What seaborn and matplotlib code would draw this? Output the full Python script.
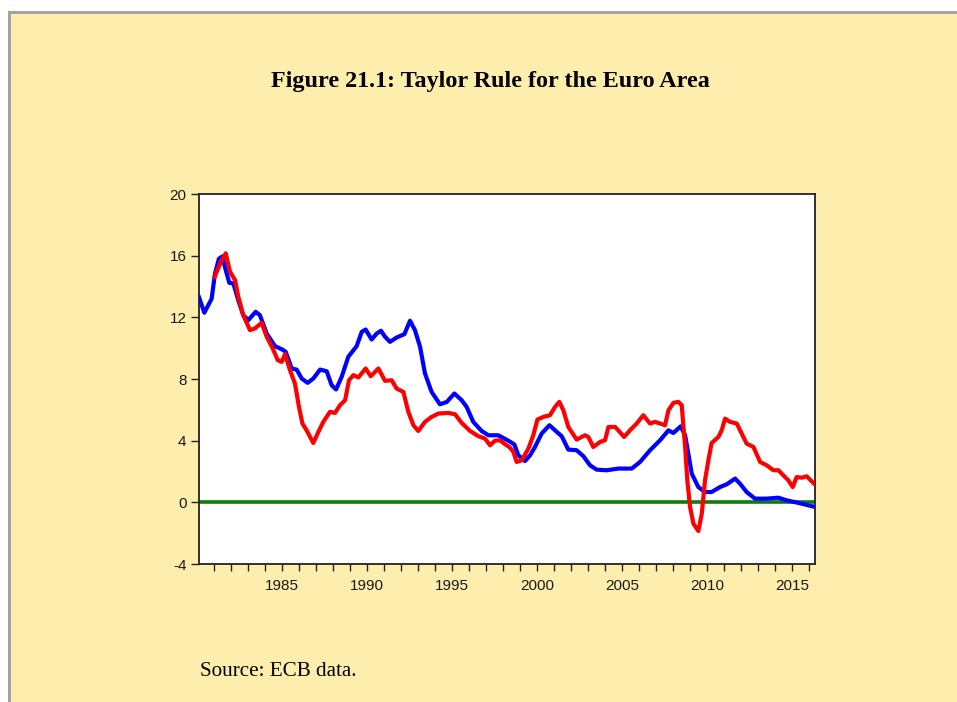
import matplotlib
matplotlib.use("Agg")
import matplotlib.pyplot as plt
from matplotlib.patches import Rectangle
from matplotlib.ticker import MultipleLocator, FixedLocator
import seaborn as sns
import pandas as pd

# Short-term interest rate (blue)
rate_year = [1980.12, 1980.43, 1980.86, 1981.06, 1981.29, 1981.49, 1981.69, 1981.90,
             1982.14, 1982.43, 1982.72, 1983.02, 1983.45, 1983.70, 1984.10, 1984.59,
             1985.02, 1985.22, 1985.57, 1985.86, 1986.16, 1986.51, 1986.84, 1987.24,
             1987.63, 1987.92, 1988.18, 1988.51, 1988.90, 1989.39, 1989.69, 1989.92,
             1990.27, 1990.57, 1990.82, 1991.06, 1991.35, 1991.74, 1992.20, 1992.53,
             1992.82, 1993.12, 1993.41, 1993.80, 1994.29, 1994.69, 1995.14, 1995.57,
             1995.86, 1996.25, 1996.74, 1997.14, 1997.72, 1998.31, 1998.67, 1998.90,
             1999.29, 1999.59, 1999.88, 2000.27, 2000.73, 2001.06, 2001.45, 2001.84,
             2002.33, 2002.73, 2003.12, 2003.51, 2004.10, 2004.78, 2005.57, 2006.06,
             2006.65, 2007.24, 2007.73, 2008.02, 2008.45, 2008.71, 2008.90, 2009.10,
             2009.49, 2009.88, 2010.27, 2010.76, 2011.16, 2011.65, 2011.94, 2012.33,
             2012.82, 2013.51, 2014.20, 2014.69, 2015.47, 2016.35]
rate_value = [13.3, 12.3, 13.2, 14.85, 15.8, 15.95, 15.07, 14.24,
              14.2, 13.1, 12.14, 11.82, 12.36, 12.14, 10.95, 10.13,
              9.91, 9.76, 8.68, 8.61, 8.03, 7.75, 8.03, 8.61,
              8.5, 7.6, 7.32, 8.14, 9.44, 10.13, 11.06, 11.21,
              10.56, 10.95, 11.13, 10.74, 10.41, 10.69, 10.91, 11.78,
              11.17, 10.09, 8.36, 7.16, 6.36, 6.51, 7.06, 6.62,
              6.19, 5.22, 4.63, 4.35, 4.35, 4.0, 3.75, 3.05,
              2.68, 3.05, 3.59, 4.46, 5.0, 4.67, 4.29, 3.42,
              3.38, 2.99, 2.4, 2.12, 2.08, 2.19, 2.19, 2.62,
              3.38, 4.03, 4.67, 4.5, 4.93, 4.35, 3.16, 1.86,
              0.99, 0.67, 0.67, 0.99, 1.17, 1.54, 1.21, 0.67,
              0.24, 0.24, 0.3, 0.13, -0.06, -0.3]

# Taylor-rule rate (red)
taylor_year = [1981.04, 1981.45, 1981.69, 1981.94, 1982.24, 1982.43, 1982.72, 1983.12,
               1983.41, 1983.80, 1984.10, 1984.43, 1984.75, 1984.98, 1985.18, 1985.47,
               1985.76, 1986.00, 1986.20, 1986.45, 1986.84, 1987.14, 1987.43, 1987.82,
               1988.12, 1988.41, 1988.71, 1988.94, 1989.20, 1989.49, 1989.92, 1990.22,
               1990.67, 1991.06, 1991.45, 1991.74, 1992.14, 1992.43, 1992.73, 1993.02,
               1993.41, 1993.80, 1994.20, 1994.78, 1995.18, 1995.57, 1996.06, 1996.55,
               1996.94, 1997.24, 1997.53, 1997.82, 1998.12, 1998.41, 1998.61, 1998.80,
               1999.10, 1999.49, 1999.78, 2000.02, 2000.37, 2000.76, 2001.06, 2001.31,
               2001.55, 2001.84, 2002.33, 2002.82, 2003.02, 2003.31, 2003.71, 2004.00,
               2004.20, 2004.59, 2004.78, 2005.12, 2005.51, 2005.86, 2006.25, 2006.65,
               2006.94, 2007.24, 2007.53, 2007.73, 2008.02, 2008.31, 2008.51, 2008.71,
               2008.84, 2009.00, 2009.20, 2009.49, 2009.69, 2009.88, 2010.08, 2010.27,
               2010.67, 2010.86, 2011.06, 2011.35, 2011.75, 2012.04, 2012.33, 2012.73,
               2013.12, 2013.51, 2013.90, 2014.20, 2014.49, 2014.78, 2015.04, 2015.27,
               2015.57, 2015.86, 2016.35]
taylor_value = [14.63, 15.71, 16.15, 14.96, 14.41, 13.33, 12.14, 11.17,
                11.28, 11.65, 10.74, 10.04, 9.22, 9.11, 9.61, 8.57,
                7.71, 6.19, 5.11, 4.67, 3.85, 4.57, 5.22, 5.87,
                5.8, 6.3, 6.62, 7.92, 8.25, 8.1, 8.68, 8.18,
                8.68, 7.88, 7.92, 7.38, 7.16, 5.87, 5.0, 4.63,
                5.22, 5.54, 5.76, 5.8, 5.71, 5.15, 4.63, 4.29,
                4.13, 3.7, 4.0, 4.03, 3.77, 3.55, 3.27, 2.62,
                2.73, 3.48, 4.35, 5.37, 5.54, 5.65, 6.19, 6.52,
                5.97, 4.89, 4.07, 4.35, 4.24, 3.59, 3.92, 4.03,
                4.89, 4.89, 4.67, 4.24, 4.72, 5.11, 5.65, 5.11,
                5.22, 5.11, 5.0, 5.97, 6.45, 6.52, 6.3, 3.59,
                1.43, -0.3, -1.39, -1.86, -0.74, 1.43, 2.73, 3.85,
                4.24, 4.67, 5.43, 5.22, 5.11, 4.46, 3.81, 3.59,
                2.62, 2.4, 2.08, 2.08, 1.75, 1.43, 0.99, 1.64,
                1.6, 1.69, 1.15]

zero_year = [1980.12, 2016.35]
zero_value = [0.0, 0.0]

y_ticks = [-4, 0, 4, 8, 12, 16, 20]
x_label_years = [1985, 1990, 1995, 2000, 2005, 2010, 2015]

title_text = "Figure 21.1: Taylor Rule for the Euro Area"
source_text = "Source: ECB data."

rate_df = pd.DataFrame({"year": rate_year, "value": rate_value})
taylor_df = pd.DataFrame({"year": taylor_year, "value": taylor_value})
zero_df = pd.DataFrame({"year": zero_year, "value": zero_value})

W, H = 957, 702
fig = plt.figure(figsize=(W / 100, H / 100), dpi=100, facecolor="white")

# Pale yellow page with a grey rule along its top and left edges
fig.patches.append(Rectangle((9 / W, 0), 1 - 9 / W, 1 - 12 / H, transform=fig.transFigure,
                             facecolor="#FDEEAD", edgecolor="none", zorder=-3))
fig.patches.append(Rectangle((8 / W, 1 - 14 / H), 1 - 8 / W, 2.5 / H, transform=fig.transFigure,
                             facecolor="#A3A3A3", edgecolor="none", zorder=-2))
fig.patches.append(Rectangle((8 / W, 0), 2.5 / W, 1 - 12 / H, transform=fig.transFigure,
                             facecolor="#A3A3A3", edgecolor="none", zorder=-2))

ax = fig.add_axes([199 / W, 1 - 564 / H, 616 / W, 370 / H])
ax.set_zorder(5)
ax.set_facecolor("white")

sns.lineplot(data=zero_df, x="year", y="value", ax=ax, color="#0A7F0A", linewidth=2.6, zorder=2)
sns.lineplot(data=rate_df, x="year", y="value", ax=ax, color="#0000FF", linewidth=3.0, zorder=3)
sns.lineplot(data=taylor_df, x="year", y="value", ax=ax, color="#FF0000", linewidth=3.0, zorder=4)

ax.set_xlim(1980.118, 2016.35)
ax.set_ylim(-4, 20)
ax.set_xlabel("")
ax.set_ylabel("")

ax.yaxis.set_major_locator(FixedLocator(y_ticks))
ax.set_yticklabels([str(v) for v in y_ticks])
ax.xaxis.set_major_locator(FixedLocator(x_label_years))
ax.set_xticklabels([str(v) for v in x_label_years])
ax.xaxis.set_minor_locator(MultipleLocator(1))

for side in ax.spines.values():
    side.set_color("#222222")
    side.set_linewidth(1.3)

ax.tick_params(axis="both", which="both", direction="out", color="#222222", width=1.0,
               labelsize=11, labelcolor="#1a1a1a")
ax.tick_params(axis="y", which="major", length=6, pad=3)
ax.tick_params(axis="x", which="major", length=5, pad=6)
ax.tick_params(axis="x", which="minor", length=5)
for lbl in ax.get_xticklabels() + ax.get_yticklabels():
    lbl.set_family(["Liberation Sans", "DejaVu Sans"])

fig.text(490 / W, 1 - 82 / H, title_text, ha="center", va="center",
         family=["Liberation Serif", "DejaVu Serif"], fontweight="bold", fontsize=17.4, color="black")
fig.text(200 / W, 1 - 672 / H, source_text, ha="left", va="center",
         family=["Liberation Serif", "DejaVu Serif"], fontsize=15.2, color="black")

fig.savefig("out.png", dpi=100, facecolor="white")
